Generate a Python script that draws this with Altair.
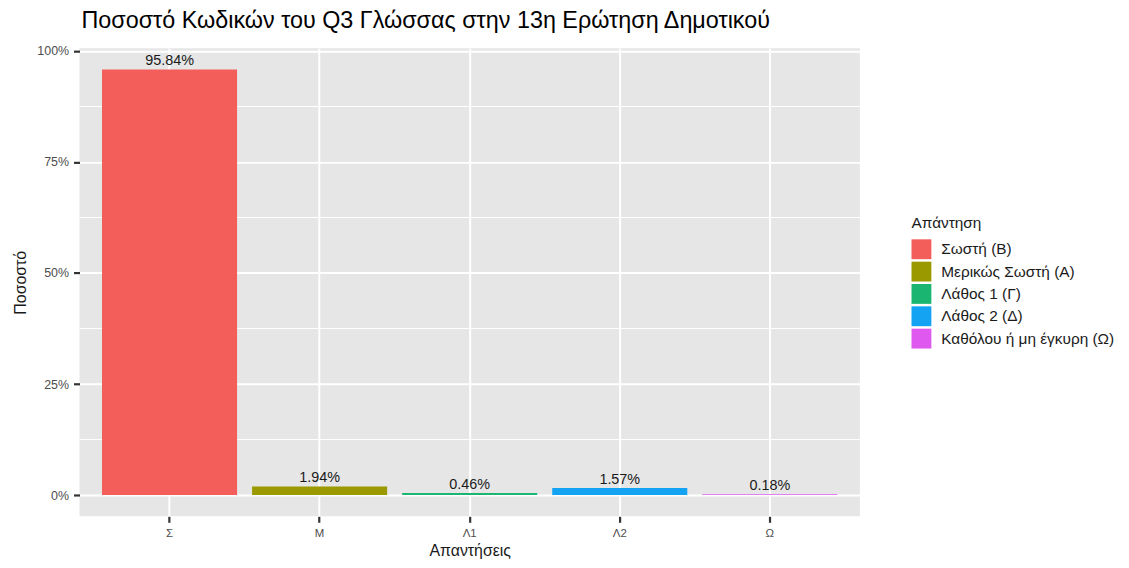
import altair as alt
import pandas as pd

categories = ["Σ", "Μ", "Λ1", "Λ2", "Ω"]
answers = ["Σωστή (Β)", "Μερικώς Σωστή (Α)", "Λάθος 1 (Γ)", "Λάθος 2 (Δ)", "Καθόλου ή μη έγκυρη (Ω)"]
percents = [95.84, 1.94, 0.46, 1.57, 0.18]
colors = ["#F35E5A", "#9A9A00", "#19B571", "#14A3F2", "#DF59F0"]
y_ticks = [0, 25, 50, 75, 100]
minor_ticks = [12.5, 37.5, 62.5, 87.5]

df = pd.DataFrame({
    "cat": categories,
    "answer": answers,
    "pct": percents,
    "label": [f"{p:.2f}%" for p in percents],
})
minor_df = pd.DataFrame({"v": minor_ticks})

yscale = alt.Scale(domain=[-4.79, 100.63], nice=False, zero=False)
xscale = alt.Scale(domain=categories, paddingInner=0.1, paddingOuter=0.15)

yaxis = alt.Axis(title="Ποσοστό", values=y_ticks,
                 labelExpr="datum.value + '%'",
                 grid=True, gridColor="white", gridWidth=2,
                 domain=False, tickColor="#333333", tickSize=6,
                 tickWidth=2.2, labelColor="#4D4D4D", labelFontSize=12.5,
                 labelPadding=5, titleFontSize=16,
                 titleFontWeight="normal", titleColor="#1A1A1A",
                 titlePadding=8)

xaxis = alt.Axis(title="Απαντήσεις", labelAngle=0, bandPosition=0.5,
                 grid=True, gridColor="white", gridWidth=2,
                 domain=False, ticks=True, tickColor="#333333",
                 tickSize=6, tickWidth=2.2, labelColor="#4D4D4D",
                 labelFontSize=11.5, labelPadding=5,
                 titleFontSize=16, titleFontWeight="normal",
                 titleColor="#1A1A1A", titlePadding=4)

xenc = alt.X("cat:N", scale=xscale, sort=categories, axis=xaxis)

minor = alt.Chart(minor_df).mark_rule(color="white", strokeWidth=1).encode(
    y=alt.Y("v:Q", scale=yscale, axis=yaxis)
)

bars = alt.Chart(df).mark_bar().encode(
    x=xenc,
    y=alt.Y("pct:Q", scale=yscale, axis=yaxis),
    y2=alt.datum(0),
    color=alt.Color("answer:N",
                    scale=alt.Scale(domain=answers, range=colors),
                    sort=answers,
                    legend=alt.Legend(title="Απάντηση", orient="none",
                                      legendX=838, legendY=169,
                                      symbolType="square", symbolSize=400,
                                      symbolStrokeWidth=0, symbolOpacity=1,
                                      labelFontSize=15.5, titleFontSize=15.5,
                                      titleFontWeight="normal",
                                      titleColor="#1A1A1A",
                                      labelColor="#1A1A1A",
                                      labelLimit=400,
                                      rowPadding=2.5, titlePadding=8,
                                      labelOffset=10)),
)

text = alt.Chart(df).mark_text(baseline="alphabetic", dy=-4.5, fontSize=14.5,
                               color="#1A1A1A").encode(
    x=xenc,
    y=alt.Y("pct:Q", scale=yscale, axis=yaxis),
    text="label:N",
)

chart = alt.layer(minor, bars, text).properties(
    width=786, height=471.5,
    title=alt.TitleParams("Ποσοστό Κωδικών του Q3 Γλώσσας στην 13η Ερώτηση Δημοτικού",
                          anchor="start", frame="group", fontSize=23.5,
                          fontWeight="normal", color="#000000", dx=2,
                          offset=13),
    autosize=alt.AutoSizeParams(type="none"),
    padding={"left": 72, "top": 38.5, "right": 263, "bottom": 42},
).configure(font="Liberation Sans").configure_view(fill="#E6E6E6", stroke=None)

chart.save("out.html", embed_options={"renderer": "svg", "actions": False})
